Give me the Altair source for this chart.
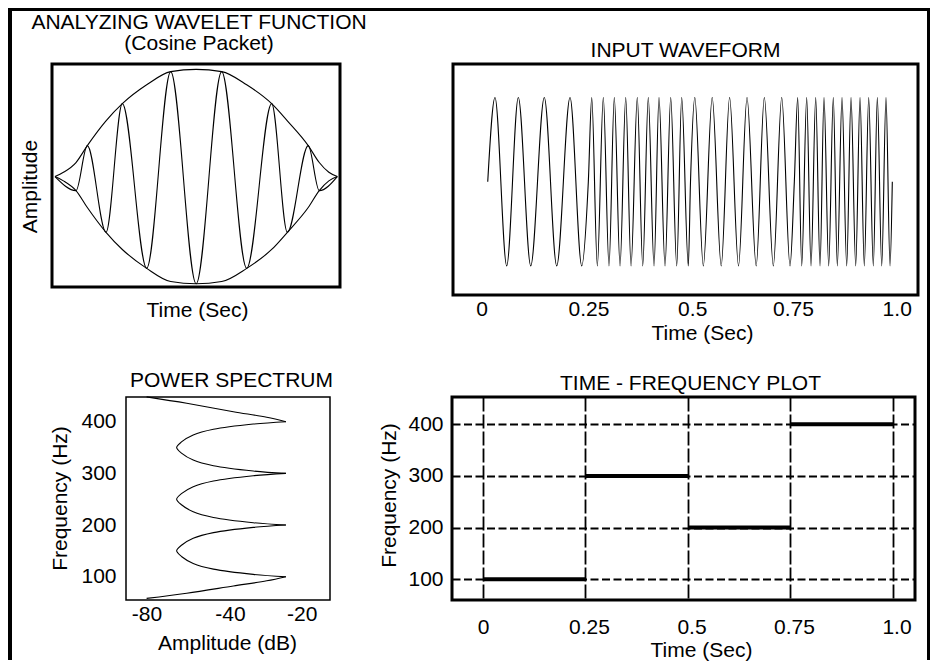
import altair as alt
import pandas as pd

FONT = "Liberation Sans"
FS = 21

# ---------------- data ----------------
# Analyzing wavelet (cosine packet): envelope and carrier extrema
env_t = [0.0, 0.03, 0.0744, 0.1145, 0.1807, 0.2385, 0.3248, 0.4098, 0.5,
         0.5904, 0.679, 0.7675, 0.823, 0.897, 0.936, 0.97, 1.0]
env_a = [0.0, 0.04, 0.131, 0.289, 0.52, 0.68, 0.856, 0.979, 1.0,
         0.979, 0.856, 0.68, 0.52, 0.289, 0.131, 0.04, 0.0]
car_t = [0.0, 0.0744, 0.1145, 0.1807, 0.2385, 0.3248, 0.4098, 0.5,
         0.5904, 0.679, 0.7675, 0.823, 0.897, 0.936, 1.0]
car_v = [0.0, -0.131, 0.289, -0.52, 0.68, -0.856, 0.979, -1.0,
         0.979, -0.856, 0.68, -0.52, 0.289, -0.131, 0.0]

# Input waveform: zero crossings at segment joins and the extrema (time in s)
wave_t = [0.0145, 0.0320, 0.0602, 0.0882, 0.1181, 0.1508, 0.1807, 0.2128, 0.2410, 0.2569,
          0.2651, 0.2786, 0.2930, 0.3067, 0.3195, 0.3333, 0.3470, 0.3598, 0.3749, 0.3880,
          0.4014, 0.4152, 0.4272, 0.4417, 0.4554, 0.4699, 0.4819, 0.4978, 0.5031,
          0.5135, 0.5340, 0.5554, 0.5771, 0.5973, 0.6188, 0.6393, 0.6614, 0.6810, 0.7027,
          0.7229, 0.7429, 0.7533,
          0.7614, 0.7711, 0.7831, 0.7935, 0.8048, 0.8152, 0.8248, 0.8361, 0.8472, 0.8569,
          0.8682, 0.8795, 0.8899, 0.9012, 0.9116, 0.9219, 0.9325, 0.9436, 0.9533, 0.9639,
          0.9742, 0.9839, 0.9894]
wave_v = [0, 1, -1, 1, -1, 1, -1, 1, -1, 0,
          1, -1, 1, -1, 1, -1, 1, -1, 1, -1,
          1, -1, 1, -1, 1, -1, 1, -1, 0,
          1, -1, 1, -1, 1, -1, 1, -1, 1, -1,
          1, -1, 0,
          1, -1, 1, -1, 1, -1, 1, -1, 1, -1,
          1, -1, 1, -1, 1, -1, 1, -1, 1, -1,
          1, -1, 0]

# Power spectrum: pieces between peaks (Hz, dB)
ps_piece = ["a"] * 5 + ["b"] * 11 + ["c"] * 11 + ["d"] * 11 + ["e"] * 5
ps_freq = [448, 435.6, 419.4, 408.5, 400,
           400, 395.5, 385.3, 374.3, 361.3, 350, 338.7, 325.7, 314.7, 304.5, 300,
           300, 295.5, 285.3, 274.3, 261.3, 250, 238.7, 225.7, 214.7, 204.5, 200,
           200, 195.5, 185.3, 174.3, 161.3, 150, 138.7, 125.7, 114.7, 104.5, 100,
           100, 92, 82, 68, 58]
ps_db = [-77.6, -62.1, -44.1, -31.2, -23.8,
         -23.8, -36.4, -51.8, -59.6, -64.0, -66.0, -64.0, -59.6, -51.8, -36.4, -23.8,
         -23.8, -36.4, -51.8, -59.6, -64.0, -66.0, -64.0, -59.6, -51.8, -36.4, -23.8,
         -23.8, -36.4, -51.8, -59.6, -64.0, -66.0, -64.0, -59.6, -51.8, -36.4, -23.8,
         -23.8, -31.2, -44.1, -62.1, -77.6]

# Time - frequency plot
tf_start = [0.0, 0.25, 0.5, 0.75]
tf_end = [0.25, 0.5, 0.75, 1.0]
tf_freq = [100, 300, 200, 400]

# tick values and labels
time_ticks = [0, 0.25, 0.5, 0.75, 1.0]
time_labels = ["0", "0.25", "0.5", "0.75", "1.0"]
freq_ticks = [100, 200, 300, 400]
db_ticks = [-80, -40, -20]
db_labels = ["-80", "-40", "-20"]


def label_expr(vals, labs):
    expr = "''"
    for v, l in reversed(list(zip(vals, labs))):
        expr = f"datum.value == {v} ? '{l}' : ({expr})"
    return expr


# ---------------- tables ----------------
wv_df = pd.concat([
    pd.DataFrame({"t": env_t, "v": env_a, "s": "env_up"}),
    pd.DataFrame({"t": env_t, "v": [-a for a in env_a], "s": "env_dn"}),
    pd.DataFrame({"t": car_t, "v": car_v, "s": "carrier"}),
])
wave_df = pd.DataFrame({"t": wave_t, "v": wave_v})
ps_df = pd.DataFrame({"piece": ps_piece, "freq": ps_freq, "db": ps_db})
tf_df = pd.DataFrame({"t0": tf_start, "t1": tf_end, "f": tf_freq})
dummy = pd.DataFrame({"k": [0]})

NOVIEW = alt.ViewBackground(strokeWidth=0, stroke="transparent")


def noaxis_common():
    return dict(ticks=False, tickSize=0, domain=False, grid=False)


# ---------------- panels ----------------
wavelet = alt.Chart(wv_df).mark_line(color="black", strokeWidth=1.1, interpolate="monotone").encode(
    x=alt.X("t:Q", scale=alt.Scale(domain=[-0.0106, 1.0095], nice=False, zero=False),
            axis=alt.Axis(title="Time (Sec)", labels=False, titleX=145, titleY=23,
                          titleBaseline="middle", titleAlign="center", **noaxis_common())),
    y=alt.Y("v:Q", scale=alt.Scale(domain=[-1.03, 1.05], nice=False, zero=False),
            axis=alt.Axis(title="Amplitude", labels=False, titleX=-22, titleY=122, titleAngle=270,
                          titleBaseline="middle", titleAlign="center", **noaxis_common())),
    detail="s:N",
).properties(
    width=288, height=223,
    title=alt.TitleParams(["ANALYZING WAVELET FUNCTION", "(Cosine Packet)"], anchor="middle",
                          frame="group", offset=10.5, lineHeight=21, dx=3),
    view=alt.ViewBackground(stroke="black", strokeWidth=3),
)

waveform = alt.Chart(wave_df).mark_line(color="black", strokeWidth=1.1, interpolate="monotone").encode(
    x=alt.X("t:Q", scale=alt.Scale(domain=[-0.0692, 1.0513], nice=False, zero=False),
            axis=alt.Axis(title="Time (Sec)", values=time_ticks, labelExpr=label_expr(time_ticks, time_labels),
                          labelPadding=14, labelBaseline="middle", labelFlush=False, labelOverlap=False,
                          labelOffset={"condition": {"test": "datum.value == 0.25 || datum.value == 0.5",
                                                     "value": 3}, "value": 0},
                          titleX=249, titleY=38, titleBaseline="middle", titleAlign="center",
                          **noaxis_common())),
    y=alt.Y("v:Q", scale=alt.Scale(domain=[-1.346, 1.398], nice=False, zero=False), axis=None),
).properties(
    width=465, height=231,
    title=alt.TitleParams("INPUT WAVEFORM", anchor="middle", frame="group", offset=3.5),
    view=alt.ViewBackground(stroke="black", strokeWidth=3),
)

spectrum = alt.Chart(ps_df).mark_line(color="black", strokeWidth=1.1, interpolate="catmull-rom").encode(
    x=alt.X("db:Q", scale=alt.Scale(domain=[-85.56, -6.77], nice=False, zero=False),
            axis=alt.Axis(title="Amplitude (dB)", values=db_ticks, labelExpr=label_expr(db_ticks, db_labels),
                          labelPadding=14, labelBaseline="middle", labelFlush=False, labelOverlap=False,
                          labelOffset={"condition": {"test": "datum.value == -40", "value": -14}, "value": 6},
                          titleX=101, titleY=43, titleBaseline="middle", titleAlign="center",
                          **noaxis_common())),
    y=alt.Y("freq:Q", scale=alt.Scale(domain=[54.9, 447.8], nice=False, zero=False),
            axis=alt.Axis(title="Frequency (Hz)", values=freq_ticks, labelPadding=10, labelOverlap=False,
                          labelFlush=False, titleX=-66, titleY=101, titleAngle=270,
                          titleBaseline="middle", titleAlign="center", **noaxis_common())),
    detail="piece:N",
    order="freq:Q",
).properties(
    width=204, height=203,
    title=alt.TitleParams("POWER SPECTRUM", anchor="middle", frame="group", offset=3.5, dx=3.5),
    view=alt.ViewBackground(stroke="black", strokeWidth=1.5),
)

tf = alt.Chart(tf_df).mark_rule(color="black", strokeWidth=4).encode(
    x=alt.X("t0:Q", scale=alt.Scale(domain=[-0.0756, 1.0537], nice=False, zero=False),
            axis=alt.Axis(title="Time (Sec)", values=time_ticks, labelExpr=label_expr(time_ticks, time_labels),
                          labelPadding=27.5, labelBaseline="middle", labelFlush=False, labelOverlap=False,
                          labelOffset={"condition": {"test": "datum.value == 0", "value": 0}, "value": 3.5},
                          titleX=249, titleY=50, titleBaseline="middle", titleAlign="center",
                          ticks=False, tickSize=0, domain=False, grid=True, gridColor="black",
                          gridWidth=1.8, gridDash=[14, 3], gridOpacity=1)),
    x2="t1:Q",
    y=alt.Y("f:Q", scale=alt.Scale(domain=[59.9, 452.8], nice=False, zero=False),
            axis=alt.Axis(title="Frequency (Hz)", values=freq_ticks, labelPadding=9, labelOverlap=False,
                          labelFlush=False, titleX=-63, titleY=98, titleAngle=270,
                          titleBaseline="middle", titleAlign="center",
                          ticks=False, tickSize=0, domain=False, grid=True, gridColor="black",
                          gridWidth=1.8, gridDash=[8, 3.5], gridOpacity=1)),
).properties(
    width=463, height=203,
    title=alt.TitleParams("TIME - FREQUENCY PLOT", anchor="middle", frame="group", offset=3.5, dx=7),
    view=alt.ViewBackground(stroke="black", strokeWidth=3),
)


# ---------------- frame and spacers (layout only) ----------------
def bar(x1, x2, y1, y2):
    return alt.Chart(dummy).mark_rect(color="black").encode(
        x=alt.value(x1), x2=alt.value(x2), y=alt.value(y1), y2=alt.value(y2))


def spacer(w, h):
    return alt.Chart(dummy).mark_rect(opacity=0).encode(
        x=alt.value(0), x2=alt.value(1), y=alt.value(0), y2=alt.value(1)
    ).properties(width=w, height=h, view=NOVIEW)


frame_top = alt.layer(
    bar(0, 4, -56, 296),
    bar(0, 922, -56, -53),
    bar(919, 922, -56, 296),
).properties(width=44, height=231, view=NOVIEW)

frame_bottom = alt.layer(
    bar(0, 4, -37, 263),
    bar(919, 922, -37, 263),
).properties(width=118, height=203, view=NOVIEW)

row1 = alt.hconcat(frame_top, wavelet, spacer(113, 231), waveform, spacing=0, bounds="flush")
row2 = alt.hconcat(frame_bottom, spectrum, spacer(122, 203), tf, spacing=0, bounds="flush")

chart = alt.vconcat(row1, row2, spacing=0).properties(
    padding=0,
    background="white",
).configure(
    font=FONT,
).configure_view(
    strokeWidth=0,
).configure_axis(
    labelFont=FONT, titleFont=FONT, labelFontSize=FS, titleFontSize=FS,
    titleFontWeight="normal", labelColor="black", titleColor="black",
).configure_title(
    font=FONT, fontSize=FS, fontWeight="normal", color="black", subtitleColor="black",
)

chart.save("out.html", embed_options={"renderer": "svg", "actions": False})
